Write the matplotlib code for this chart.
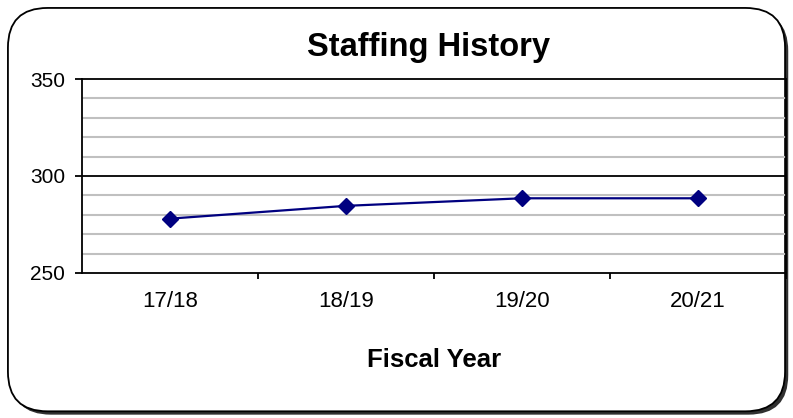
import matplotlib.pyplot as plt
from matplotlib.patches import FancyBboxPatch
from matplotlib.ticker import MultipleLocator

# data
years = ['17/18', '18/19', '19/20', '20/21']
staff = [278, 284.6, 288.5, 288.5]

plt.rcParams['font.family'] = ['Liberation Sans', 'DejaVu Sans']

fig = plt.figure(figsize=(7.93, 4.18), dpi=100)

# rounded frame with a drop shadow
shadow = FancyBboxPatch((0.014, 0.008), 0.98, 0.965, boxstyle='round,pad=0,rounding_size=0.05',
                        transform=fig.transFigure, facecolor='#303030', edgecolor='none',
                        mutation_aspect=793 / 418, zorder=-2)
frame = FancyBboxPatch((0.010, 0.016), 0.98, 0.965, boxstyle='round,pad=0,rounding_size=0.05',
                       transform=fig.transFigure, facecolor='white', edgecolor='black',
                       linewidth=1.3, mutation_aspect=793 / 418, zorder=-1)
fig.patches.extend([shadow, frame])

ax = fig.add_axes([0.1034, 0.347, 0.8876, 0.464])
ax.set_facecolor('none')

x = range(len(years))
ax.plot(x, staff, color='#000080', linewidth=1.6, marker='D', markersize=8.5,
        markerfacecolor='#000080', markeredgecolor='#000080', zorder=3)

ax.set_xlim(-0.5, len(years) - 0.5)
ax.set_ylim(250, 350)
ax.set_yticks([250, 300, 350])
ax.yaxis.set_minor_locator(MultipleLocator(10))
ax.grid(which='minor', axis='y', color='#c0c0c0', linewidth=1.5)
ax.axhline(300, color='black', linewidth=1.3, zorder=2)

ax.set_xticks(list(x))
ax.set_xticklabels(years)
ax.set_xticks([i + 0.5 for i in range(len(years))], minor=True)
ax.tick_params(axis='x', which='major', length=0, pad=13, labelsize=16)
ax.tick_params(axis='x', which='minor', length=4, width=1.3, direction='out')
ax.tick_params(axis='y', which='major', length=5, width=1.3, labelsize=15, pad=7)
ax.tick_params(axis='y', which='minor', length=0)

for s in ax.spines.values():
    s.set_color('black')
    s.set_linewidth(1.3)

fig.text(0.54, 0.887, 'Staffing History', ha='center', va='center',
         fontsize=23.5, fontweight='bold')
ax.set_xlabel('Fiscal Year', fontsize=18.5, fontweight='bold', labelpad=26)

fig.savefig('out.png', dpi=100)
